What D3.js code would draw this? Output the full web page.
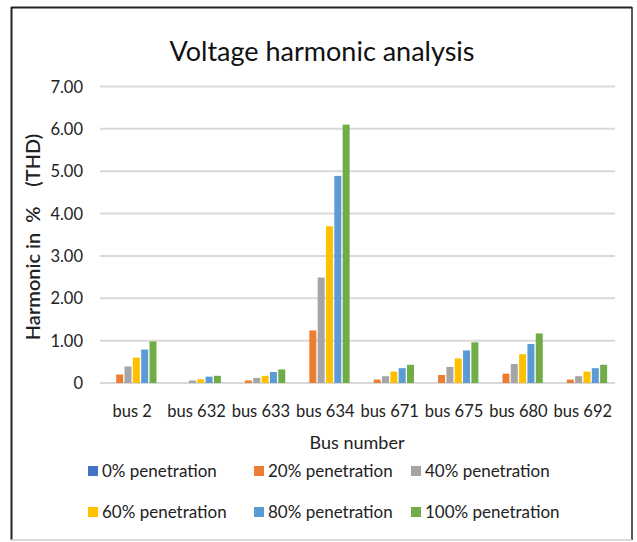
<!DOCTYPE html>
<html>
<head>
<meta charset="utf-8">
<script src="https://cdn.jsdelivr.net/npm/d3@7"></script>
<style>
  html, body { margin: 0; padding: 0; background: #fff; }
  svg { display: block; font-family: Lato, "Open Sans", sans-serif; }
</style>
</head>
<body>
<svg id="chart" width="637" height="542"></svg>
<script>
// chart data
const buses = ['bus 2', 'bus 632', 'bus 633', 'bus 634', 'bus 671', 'bus 675', 'bus 680', 'bus 692'];
const seriesNames = ['0% penetration', '20% penetration', '40% penetration',
  '60% penetration', '80% penetration', '100% penetration'];
const seriesColors = ['#4472C4', '#ED7D31', '#A5A5A5', '#FFC000', '#5B9BD5', '#70AD47'];

const pen0 = [0, 0, 0, 0, 0, 0, 0, 0];
const pen20 = [0.20, 0, 0.06, 1.24, 0.08, 0.19, 0.22, 0.08];
const pen40 = [0.39, 0.06, 0.12, 2.49, 0.16, 0.38, 0.45, 0.16];
const pen60 = [0.60, 0.09, 0.17, 3.70, 0.27, 0.58, 0.68, 0.27];
const pen80 = [0.79, 0.15, 0.26, 4.89, 0.35, 0.77, 0.92, 0.35];
const pen100 = [0.98, 0.17, 0.32, 6.10, 0.43, 0.96, 1.17, 0.43];
const seriesValues = [pen0, pen20, pen40, pen60, pen80, pen100];

const yTicks = [0, 1, 2, 3, 4, 5, 6, 7];

const svg = d3.select('#chart');

// frame
svg.append('line').attr('x1', 11).attr('y1', 7.5).attr('x2', 632).attr('y2', 7.5)
  .attr('stroke', '#222').attr('stroke-width', 2);
svg.append('line').attr('x1', 11.5).attr('y1', 7).attr('x2', 11.5).attr('y2', 540)
  .attr('stroke', '#222').attr('stroke-width', 2);
svg.append('line').attr('x1', 632).attr('y1', 7).attr('x2', 632).attr('y2', 540)
  .attr('stroke', '#222').attr('stroke-width', 1.5);
svg.append('line').attr('x1', 11).attr('y1', 540).attr('x2', 632).attr('y2', 540)
  .attr('stroke', '#ccc').attr('stroke-width', 1.5);

const x = d3.scaleBand().domain(buses).range([100, 615]).padding(0);
const xInner = d3.scaleBand().domain(d3.range(seriesNames.length))
  .range([7.2, x.bandwidth() - 7.2]).paddingInner(0.16).paddingOuter(0.08);
const y = d3.scaleLinear().domain([0, 7]).range([383, 86.5]);

// gridlines
svg.append('g')
  .selectAll('line')
  .data(yTicks)
  .join('line')
  .attr('x1', 100)
  .attr('x2', 615)
  .attr('y1', d => y(d))
  .attr('y2', d => y(d))
  .attr('stroke', '#d9d9d9')
  .attr('stroke-width', 2);

// y tick labels
svg.append('g')
  .selectAll('text')
  .data(yTicks)
  .join('text')
  .attr('x', 83)
  .attr('y', d => y(d) + 6)
  .attr('text-anchor', 'end')
  .attr('font-size', 16.5)
  .attr('fill', '#222')
  .text(d => d === 0 ? '0' : d3.format('.2f')(d));

// bars
const groups = svg.append('g')
  .selectAll('g')
  .data(seriesValues)
  .join('g')
  .attr('fill', (d, i) => seriesColors[i]);

groups.selectAll('rect')
  .data((vals, si) => vals.map((v, bi) => ({ v, si, bus: buses[bi] })))
  .join('rect')
  .attr('x', d => x(d.bus) + xInner(d.si))
  .attr('width', xInner.bandwidth())
  .attr('y', d => y(d.v))
  .attr('height', d => y(0) - y(d.v));

// x labels
svg.append('g')
  .selectAll('text')
  .data(buses)
  .join('text')
  .attr('x', d => x(d) + x.bandwidth() / 2)
  .attr('y', 417)
  .attr('text-anchor', 'middle')
  .attr('font-size', 16.5)
  .attr('fill', '#222')
  .text(d => d);

// title
svg.append('text')
  .attr('x', 322)
  .attr('y', 61)
  .attr('text-anchor', 'middle')
  .attr('font-size', 27)
  .attr('fill', '#111')
  .text('Voltage harmonic analysis');

// axis titles
svg.append('text')
  .attr('x', 357)
  .attr('y', 449)
  .attr('text-anchor', 'middle')
  .attr('font-size', 18)
  .attr('fill', '#222')
  .text('Bus number');

svg.append('text')
  .attr('transform', 'translate(40,237) rotate(-90)')
  .attr('text-anchor', 'middle')
  .attr('font-size', 20)
  .attr('font-weight', 600)
  .attr('fill', '#222')
  .attr('xml:space', 'preserve')
  .style('white-space', 'pre')
  .text('Harmonic in  %    (THD)');

// legend
const legendX = [88, 254, 411];
const legendY = [471, 512];
const legend = svg.append('g')
  .selectAll('g')
  .data(seriesNames)
  .join('g')
  .attr('transform', (d, i) => `translate(${legendX[i % 3]},${legendY[Math.floor(i / 3)]})`);

legend.append('rect')
  .attr('x', 0)
  .attr('y', -5)
  .attr('width', 10)
  .attr('height', 10)
  .attr('fill', (d, i) => seriesColors[i]);

legend.append('text')
  .attr('x', 14)
  .attr('y', 6)
  .attr('font-size', 17)
  .attr('fill', '#222')
  .text(d => d);
</script>
</body>
</html>
